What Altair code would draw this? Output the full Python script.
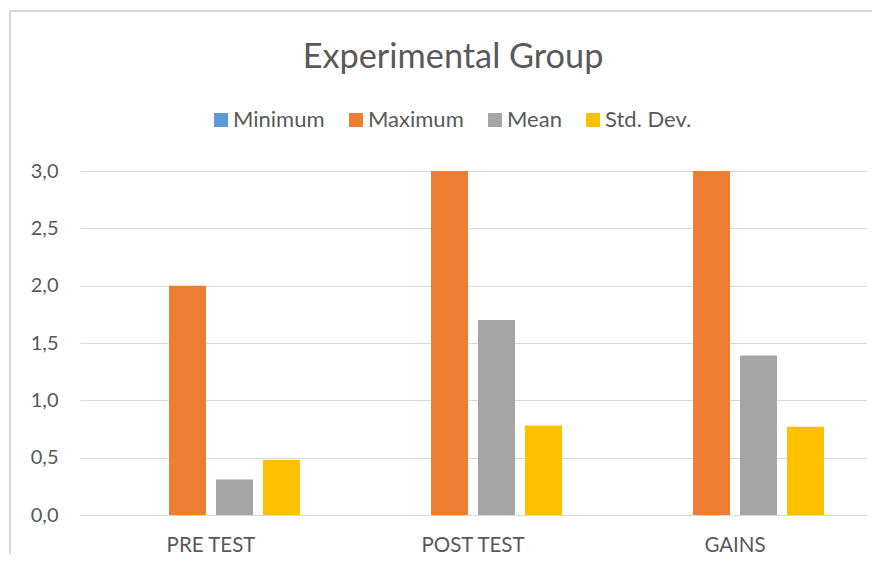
import altair as alt
import pandas as pd

categories = ["PRE TEST", "POST TEST", "GAINS"]
series = ["Minimum", "Maximum", "Mean", "Std. Dev."]
minimum = [0.0, 0.0, 0.0]
maximum = [2.0, 3.0, 3.0]
mean = [0.31, 1.70, 1.39]
std_dev = [0.48, 0.78, 0.77]
colors = ["#5B9BD5", "#ED7D31", "#A5A5A5", "#FFC000"]

rows = []
for i, c in enumerate(categories):
    for s, vals in zip(series, [minimum, maximum, mean, std_dev]):
        rows.append({"Group": c, "Stat": s, "Value": vals[i]})
df = pd.DataFrame(rows)

FONT = "Lato"
TXT = "#595959"

bars = alt.Chart(df).mark_bar().encode(
    x=alt.X("Group:N", sort=categories,
            scale=alt.Scale(paddingInner=0, paddingOuter=0),
            axis=alt.Axis(title=None, labelAngle=0, ticks=False, domain=True,
                          domainColor="#D9D9D9", labelFont=FONT, labelFontSize=20.5,
                          labelColor=TXT, labelPadding=20)),
    xOffset=alt.XOffset("Stat:N", sort=series,
                        scale=alt.Scale(paddingInner=0.213, paddingOuter=0.894)),
    y=alt.Y("Value:Q", scale=alt.Scale(domain=[0, 3]),
            axis=alt.Axis(title=None, values=[0, 0.5, 1, 1.5, 2, 2.5, 3],
                          labelExpr="replace(format(datum.value, '.1f'), '.', ',')",
                          ticks=False, domain=False, gridColor="#D9D9D9",
                          labelFont=FONT, labelFontSize=20, labelColor=TXT,
                          labelPadding=22)),
    color=alt.Color("Stat:N", sort=series,
                    scale=alt.Scale(domain=series, range=colors),
                    legend=alt.Legend(title=None, orient="none", direction="horizontal",
                                      legendX=130, legendY=-62,
                                      symbolType="square", symbolSize=196,
                                      symbolStrokeWidth=0,
                                      labelFont=FONT, labelFontSize=22,
                                      labelColor=TXT, columnPadding=20,
                                      labelOffset=1)),
)

border_v = alt.Chart(pd.DataFrame({"a": [0]})).mark_rule(color="#D9D9D9", strokeWidth=2).encode(
    x=alt.value(-70), y=alt.value(-160), y2=alt.value(383))
border_h = alt.Chart(pd.DataFrame({"a": [0]})).mark_rule(color="#D9D9D9", strokeWidth=2).encode(
    x=alt.value(-70), x2=alt.value(792), y=alt.value(-160))

chart = alt.layer(bars, border_v, border_h).properties(
    width=786, height=344,
    title=alt.TitleParams("Experimental Group", font=FONT, fontSize=34.3,
                          fontWeight="normal", color=TXT, anchor="middle",
                          offset=-65, dx=-20),
    autosize=alt.AutoSizeParams(type="none"),
    padding={"left": 72, "top": 163, "right": 8, "bottom": 40},
).configure_view(strokeWidth=0)

chart.save("out.html", embed_options={"renderer": "svg", "actions": False})
